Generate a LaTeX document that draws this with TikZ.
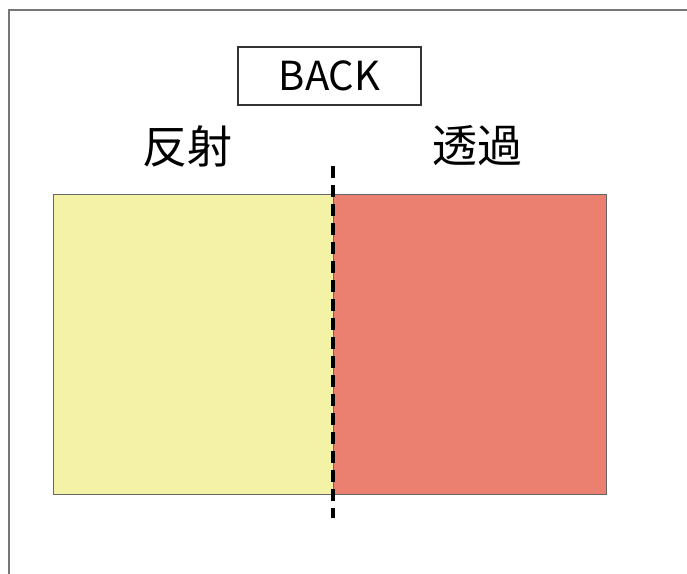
\documentclass[tikz,border=0pt]{standalone}
\usepackage{fontspec}
\newfontfamily\cjk{Noto Sans CJK JP}
\definecolor{refyellow}{HTML}{F4F2A6}
\definecolor{refred}{HTML}{EC8070}
\definecolor{framegray}{HTML}{777777}
\begin{document}
\begin{tikzpicture}[x=1pt,y=-1pt,
  panel/.style={draw=gray!80!black, line width=0.8pt},
  label/.style={font=\cjk\fontsize{45}{47}\selectfont, inner sep=0pt, anchor=center}]
\useasboundingbox (0,0) rectangle (687,573);
\fill[white] (0,0) rectangle (687,573);
% frame (only left and top visible)
\draw[framegray, line width=2pt] (9,580) -- (9,10) -- (700,10);
% panels
\node[panel, fill=refyellow, minimum width=280pt, minimum height=300pt, inner sep=0pt, anchor=north west] (refl) at (53,194) {};
\node[panel, fill=refred, minimum width=273pt, minimum height=300pt, inner sep=0pt, anchor=north west] (trans) at (333,194) {};
% BACK box
\node[draw=black!80, line width=1.6pt, minimum width=183pt, minimum height=58pt, inner sep=0pt,
  font=\cjk\fontsize{40}{42}\selectfont] (back) at (329.5,76) {BACK};
% labels
\node[label] (l1) at (187,146) {反射};
\node[label] (l2) at (477,146) {透過};
% dashed divider
\coordinate (dtop) at (333,166);
\coordinate (dbot) at (333,518);
\draw[black, line width=3.6pt, dash pattern=on 12pt off 7pt] (dtop) -- (dbot);
\end{tikzpicture}
\end{document}
